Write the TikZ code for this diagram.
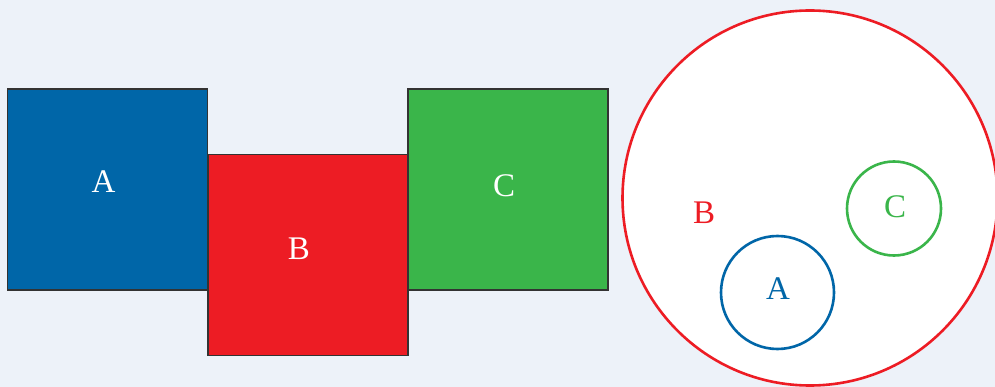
\documentclass[tikz,border=0pt]{standalone}
\usepackage{fontspec}
\setmainfont{Liberation Serif}
\definecolor{bgc}{HTML}{EDF2F9}
\definecolor{cblue}{HTML}{0066A8}
\definecolor{cred}{HTML}{ED1C24}
\definecolor{cgreen}{HTML}{3AB54A}
\definecolor{edge}{HTML}{333333}
\tikzset{
  sq/.style={draw=edge, line width=1.2pt, minimum width=200pt, minimum height=201pt, inner sep=0pt, text=white},
  ring/.style={circle, line width=2.6pt, fill=white, inner sep=0pt},
  lbl/.style={inner sep=0pt, font=\fontsize{33}{33}\selectfont}
}
\begin{document}
\begin{tikzpicture}[x=1pt,y=-1pt]
\useasboundingbox (0,0) rectangle (995,387);
\fill[bgc] (0,0) rectangle (995,387);
\node[sq, fill=cblue] (sqA) at (107.5,189.5) {};
\node[sq, fill=cred] (sqB) at (308,255) {};
\node[sq, fill=cgreen] (sqC) at (508,189.5) {};
\node[lbl, text=white] (tA) at (103.5,181.5) {A};
\node[lbl, text=white] (tB) at (299,249) {B};
\node[lbl, text=white] (tC) at (504,186) {C};
\node[ring, draw=cred, minimum size=375pt] (big) at (810,198) {};
\node[lbl, text=cred] (tbB) at (704,213) {B};
\node[ring, draw=cgreen, minimum size=94pt] (cC) at (894,208.5) {};
\node[lbl, text=cgreen] (tcC) at (895,206.5) {C};
\node[ring, draw=cblue, minimum size=113pt] (cA) at (777.5,292.5) {};
\node[lbl, text=cblue] (tcA) at (778,288.5) {A};
\end{tikzpicture}
\end{document}
